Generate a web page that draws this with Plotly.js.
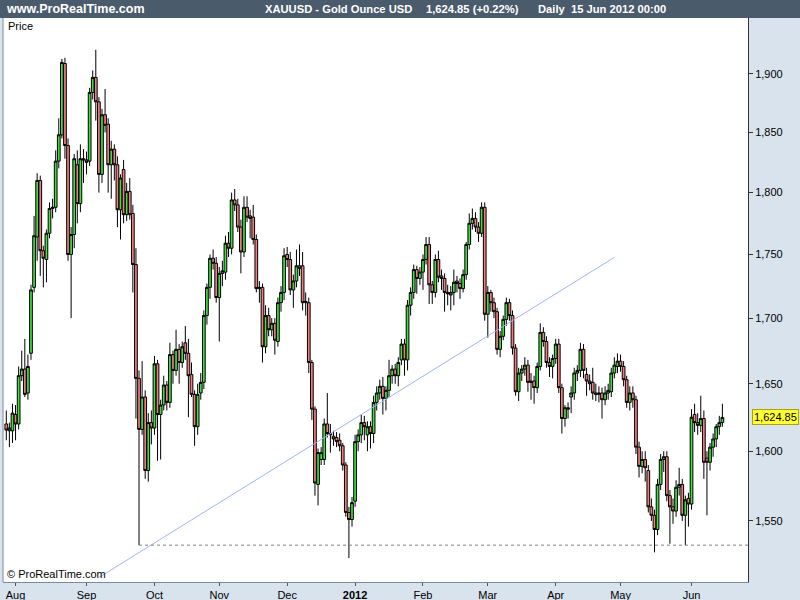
<!DOCTYPE html>
<html><head><meta charset="utf-8">
<script src="https://cdn.plot.ly/plotly-3.0.1.min.js"></script>
<style>html,body{margin:0;padding:0;background:#fff}#chart{width:800px;height:600px}</style>
</head><body><div id="chart"></div>
<script>
// Trading calendar: every weekday from 27 Jul 2011 to 15 Jun 2012
const firstDay = '2011-07-27';
const lastDay = '2012-06-15';
function weekdays(a, b) {
  const out = [];
  const d = new Date(a + 'T00:00:00Z'), e = new Date(b + 'T00:00:00Z');
  while (d <= e) {
    const w = d.getUTCDay();
    if (w !== 0 && w !== 6) out.push(d.toISOString().slice(0, 10));
    d.setUTCDate(d.getUTCDate() + 1);
  }
  return out;
}
const dates = weekdays(firstDay, lastDay);

const openP = [1620,1615,1615,1627,1620,1656,1661,1643,1673,1724,1764,1810,1753,1746,1767,1787,1788,1826,1848,1909,
1839,1750,1766,1823,1791,1828,1827,1826,1884,1897,1876,1815,1865,1857,1823,1836,1823,1786,1819,1782,
1801,1783,1742,1654,1616,1640,1586,1621,1617,1665,1627,1634,1649,1636,1672,1660,1676,1666,1681,1673,
1657,1642,1618,1643,1651,1702,1724,1747,1743,1716,1735,1736,1759,1755,1794,1790,1772,1752,1788,1781,
1780,1762,1723,1724,1678,1702,1691,1696,1682,1712,1720,1750,1746,1722,1729,1741,1741,1712,1712,1666,
1631,1576,1594,1594,1620,1613,1611,1610,1608,1604,1590,1556,1551,1564,1607,1612,1621,1612,1618,1613,
1636,1643,1648,1639,1645,1656,1661,1656,1668,1680,1668,1710,1720,1738,1731,1736,1746,1758,1726,1720,
1746,1733,1731,1720,1720,1720,1729,1727,1723,1734,1758,1775,1779,1772,1767,1788,1703,1720,1712,1705,
1676,1686,1699,1712,1702,1677,1644,1658,1661,1664,1652,1652,1647,1663,1689,1682,1666,1663,1669,1680,
1647,1624,1632,1640,1643,1658,1660,1676,1657,1652,1651,1643,1642,1643,1638,1643,1644,1658,1663,1667,
1663,1653,1636,1643,1638,1603,1589,1594,1586,1560,1554,1544,1576,1594,1596,1568,1560,1557,1574,1576,
1554,1566,1562,1627,1621,1619,1624,1595,1592,1603,1609,1618,1621];
const highP = [1630,1621,1635,1634,1663,1675,1684,1672,1726,1781,1816,1814,1757,1770,1792,1795,1835,1862,1913,1914,
1845,1772,1832,1835,1840,1836,1834,1888,1903,1921,1880,1870,1887,1862,1843,1840,1830,1815,1827,1808,
1812,1790,1755,1660,1667,1645,1628,1630,1671,1668,1638,1656,1652,1681,1675,1691,1680,1682,1694,1684,
1666,1645,1650,1658,1706,1727,1750,1754,1748,1740,1745,1765,1768,1800,1803,1795,1778,1797,1797,1786,
1790,1766,1729,1727,1710,1708,1700,1700,1716,1725,1755,1756,1752,1734,1754,1758,1752,1720,1716,1668,
1633,1602,1603,1624,1643,1620,1615,1614,1613,1606,1592,1560,1567,1612,1616,1627,1626,1622,1622,1641,
1648,1653,1655,1648,1668,1664,1665,1670,1684,1684,1714,1724,1742,1741,1740,1750,1764,1764,1729,1750,
1753,1738,1735,1726,1725,1738,1733,1731,1738,1760,1783,1787,1784,1776,1792,1792,1725,1722,1716,1708,
1690,1702,1716,1715,1706,1680,1662,1664,1670,1668,1658,1656,1666,1696,1693,1686,1670,1672,1684,1684,
1650,1634,1636,1648,1662,1664,1681,1680,1662,1657,1662,1650,1648,1647,1648,1650,1662,1670,1673,1672,
1667,1656,1648,1648,1641,1607,1600,1600,1590,1566,1558,1580,1598,1600,1600,1572,1566,1579,1588,1580,
1568,1570,1631,1635,1628,1641,1630,1600,1606,1613,1620,1626,1635];
const lowP = [1608,1603,1606,1608,1616,1652,1640,1638,1668,1720,1745,1733,1724,1728,1763,1779,1784,1820,1845,1828,
1745,1700,1755,1775,1784,1808,1815,1822,1878,1860,1800,1808,1850,1800,1795,1810,1772,1762,1775,1777,
1778,1720,1624,1533,1612,1580,1578,1605,1612,1593,1594,1630,1630,1632,1650,1656,1650,1662,1668,1625,
1640,1604,1612,1638,1646,1695,1715,1738,1712,1682,1725,1730,1748,1750,1785,1768,1735,1748,1776,1763,
1758,1720,1712,1666,1673,1686,1686,1672,1678,1705,1714,1740,1718,1708,1724,1733,1706,1702,1658,1623,
1568,1561,1590,1590,1610,1599,1604,1603,1600,1586,1553,1524,1546,1560,1600,1606,1608,1600,1602,1606,
1630,1638,1627,1630,1640,1650,1650,1648,1664,1656,1660,1702,1715,1719,1726,1722,1742,1711,1711,1716,
1728,1722,1705,1710,1706,1710,1720,1715,1720,1730,1754,1770,1768,1760,1764,1698,1685,1705,1700,1672,
1670,1683,1694,1698,1672,1641,1637,1652,1656,1644,1638,1635,1643,1660,1678,1662,1655,1654,1665,1643,
1613,1618,1624,1628,1638,1652,1655,1654,1641,1645,1638,1637,1636,1624,1634,1638,1640,1654,1658,1659,
1648,1632,1630,1632,1598,1581,1584,1578,1556,1550,1528,1540,1572,1585,1564,1534,1548,1553,1568,1550,
1533,1546,1558,1614,1612,1614,1580,1554,1586,1596,1603,1612,1618];
const closeP = [1615.5,1617,1628,1620,1656,1661,1642,1663,1722,1765,1810,1753,1747,1767,1787,1788,1826,1848,1910,1839,
1750,1766,1828,1791,1828,1827,1825,1884,1897,1876,1815,1865,1856,1823,1836,1823,1786,1812,1782,1801,
1782,1742,1654,1616,1640,1586,1621,1617,1665,1627,1634,1649,1636,1672,1660,1676,1666,1678,1673,1656,
1642,1618,1642,1651,1702,1724,1747,1743,1716,1735,1737,1759,1755,1794,1790,1772,1752,1788,1780,1779,
1762,1723,1724,1678,1702,1691,1696,1683,1712,1720,1749,1746,1722,1729,1741,1739,1712,1713,1666,1631,
1577,1599,1599,1620,1613,1612,1609,1607,1604,1590,1556,1551,1563,1607,1612,1621,1618,1618,1613,1636,
1643,1648,1639,1645,1656,1661,1656,1666,1680,1668,1710,1720,1738,1731,1736,1746,1758,1726,1720,1746,
1732,1731,1720,1719,1718,1728,1727,1723,1734,1758,1775,1779,1772,1767,1788,1703,1720,1712,1705,1676,
1686,1699,1712,1702,1677,1644,1658,1661,1664,1651,1651,1647,1663,1689,1682,1666,1663,1669,1680,1647,
1624,1632,1631,1643,1658,1660,1676,1660,1652,1650,1643,1642,1643,1638,1643,1645,1658,1664,1667,1663,
1653,1636,1643,1638,1603,1589,1594,1588,1560,1554,1544,1576,1594,1596,1568,1560,1557,1574,1576,1554,
1565,1562,1625,1621,1619,1624,1592,1592,1603,1609,1618,1621,1624.85];

const monthTickDates = ['2011-08-01','2011-09-01','2011-10-03','2011-11-01','2011-12-01','2012-01-02','2012-02-01','2012-03-01','2012-04-02','2012-05-01','2012-06-01'];
const monthTickLabels = ['Aug','Sep','Oct','Nov','Dec','<b>2012</b>','Feb','Mar','Apr','May','Jun'];
const priceTicks = [1550,1600,1650,1700,1750,1800,1850,1900];
const priceTickLabels = ['1,550','1,600','1,650','1,700','1,750','1,800','1,850','1,900'];

// drawn objects (bar index along the time axis, price)
const trendIdx = [30, 197];
const trendPrice = [1510.6, 1747.7];
const supportIdx = [43, 241];
const supportPrice = [1533, 1533];
const lastPrice = 1624.85;

const xRange = [-1.07, 240.3];

const traces = [
  {
    type: 'candlestick', x: dates, open: openP, high: highP, low: lowP, close: closeP,
    increasing: {line: {color: '#000000', width: 1}, fillcolor: '#3be03b'},
    decreasing: {line: {color: '#000000', width: 1}, fillcolor: '#f27c7c'},
    whiskerwidth: 0, hoverinfo: 'none', showlegend: false
  },
  {
    type: 'scatter', mode: 'lines', x: trendIdx, y: trendPrice, xaxis: 'x2', yaxis: 'y',
    line: {color: '#9db4ff', width: 1}, hoverinfo: 'none', showlegend: false
  },
  {
    type: 'scatter', mode: 'lines', x: supportIdx, y: supportPrice, xaxis: 'x2', yaxis: 'y',
    line: {color: '#808080', width: 1, dash: '3px,3px'}, hoverinfo: 'none', showlegend: false
  }
];

const hdrFamily = 'Liberation Sans, Arial, sans-serif';
const layout = {
  width: 800, height: 600,
  margin: {l: 3, r: 52, t: 18, b: 18, pad: 0},
  paper_bgcolor: '#d8e3ee', plot_bgcolor: '#ffffff',
  showlegend: false, boxgap: 0.12, boxgroupgap: 0,
  font: {family: 'Liberation Sans, Arial, sans-serif', size: 11, color: '#000'},
  xaxis: {
    type: 'category', range: xRange, rangeslider: {visible: false},
    tickmode: 'array', tickvals: monthTickDates, ticktext: monthTickLabels,
    showgrid: false, zeroline: false, ticks: 'outside', ticklen: 3, tickcolor: '#555',
    showline: true, linecolor: '#7a8a9a', linewidth: 1,
    tickfont: {size: 11, color: '#000'}, fixedrange: true
  },
  xaxis2: {overlaying: 'x', type: 'linear', range: xRange, visible: false, fixedrange: true},
  yaxis: {
    type: 'log', side: 'right', range: [Math.log10(1507.5), Math.log10(1949)],
    tickmode: 'array', tickvals: priceTicks, ticktext: priceTickLabels,
    showgrid: false, zeroline: false, ticks: 'outside', ticklen: 4, tickcolor: '#333',
    showline: true, linecolor: '#333', linewidth: 1,
    tickfont: {size: 11, color: '#000'}, fixedrange: true
  },
  shapes: [
    {type: 'rect', xref: 'paper', yref: 'paper', x0: -0.01, x1: 1.08, y0: 1, y1: 1.04,
     fillcolor: '#4a5b6c', line: {width: 0}, layer: 'above'},
    {type: 'line', xref: 'paper', yref: 'paper', x0: 0, x1: 0, y0: 0, y1: 1,
     line: {color: '#7a8a9a', width: 1}}
  ],
  annotations: [
    {xref: 'paper', yref: 'paper', x: -0.0, y: 1.016, xanchor: 'left', yanchor: 'middle', xshift: 1,
     text: '<b>www.ProRealTime.com</b>', showarrow: false, font: {family: hdrFamily, size: 12.5, color: '#fff'}},
    {xref: 'paper', yref: 'paper', x: 0.349, y: 1.016, xanchor: 'left', yanchor: 'middle',
     text: '<b>XAUUSD - Gold Ounce USD</b>', showarrow: false, font: {family: hdrFamily, size: 11.2, color: '#fff'}},
    {xref: 'paper', yref: 'paper', x: 0.565, y: 1.016, xanchor: 'left', yanchor: 'middle',
     text: '<b>1,624.85 (+0.22%)</b>', showarrow: false, font: {family: hdrFamily, size: 11.2, color: '#fff'}},
    {xref: 'paper', yref: 'paper', x: 0.716, y: 1.016, xanchor: 'left', yanchor: 'middle',
     text: '<b>Daily\u00a0\u00a015 Jun 2012 00:00</b>', showarrow: false, font: {family: hdrFamily, size: 11.2, color: '#fff'}},
    {xref: 'paper', yref: 'paper', x: 0, y: 1, xanchor: 'left', yanchor: 'top', xshift: 3, yshift: 0,
     text: 'Price', showarrow: false, font: {size: 11, color: '#000'}},
    {xref: 'paper', yref: 'paper', x: 0, y: 0, xanchor: 'left', yanchor: 'bottom', xshift: 2, yshift: 0,
     text: '© ProRealTime.com', showarrow: false, font: {size: 11, color: '#000'}},
    {xref: 'paper', yref: 'y', x: 1, y: Math.log10(lastPrice), xanchor: 'left', yanchor: 'middle', xshift: 4,
     text: '1,624.85', showarrow: false, bgcolor: '#ffff33', bordercolor: '#b0a000', borderwidth: 1,
     borderpad: 1, font: {size: 11, color: '#000'}}
  ]
};
Plotly.newPlot('chart', traces, layout, {displayModeBar: false, staticPlot: true});
</script></body></html>
